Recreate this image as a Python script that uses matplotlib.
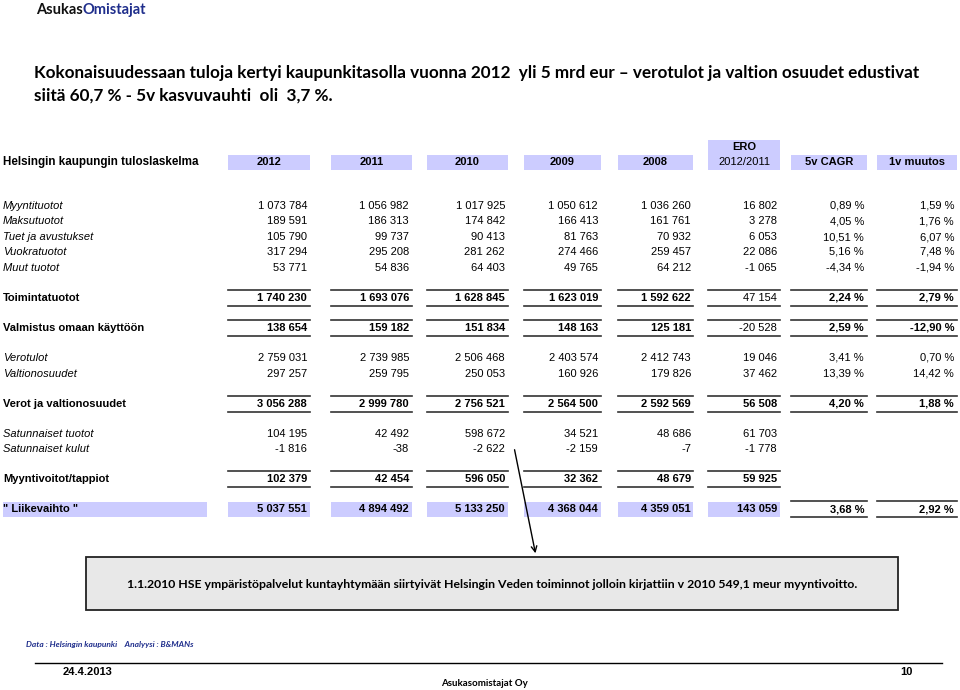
import matplotlib

matplotlib.use("Agg")
import matplotlib.pyplot as plt
from matplotlib.patches import Rectangle

# Taulukon data (1000 eur)
headers = ["2012", "2011", "2010", "2009", "2008", "2012/2011", "5v CAGR", "1v muutos"]
row_labels = ["Myyntituotot", "Maksutuotot", "Tuet ja avustukset", "Vuokratuotot", "Muut tuotot",
              "Toimintatuotot", "Valmistus omaan käyttöön", "Verotulot", "Valtionosuudet",
              "Verot ja valtionosuudet", "Satunnaiset tuotot", "Satunnaiset kulut",
              "Myyntivoitot/tappiot", "\" Liikevaihto \""]
v2012 = [1073784, 189591, 105790, 317294, 53771, 1740230, 138654, 2759031, 297257, 3056288, 104195, -1816, 102379, 5037551]
v2011 = [1056982, 186313, 99737, 295208, 54836, 1693076, 159182, 2739985, 259795, 2999780, 42492, -38, 42454, 4894492]
v2010 = [1017925, 174842, 90413, 281262, 64403, 1628845, 151834, 2506468, 250053, 2756521, 598672, -2622, 596050, 5133250]
v2009 = [1050612, 166413, 81763, 274466, 49765, 1623019, 148163, 2403574, 160926, 2564500, 34521, -2159, 32362, 4368044]
v2008 = [1036260, 161761, 70932, 259457, 64212, 1592622, 125181, 2412743, 179826, 2592569, 48686, -7, 48679, 4359051]
ero = [16802, 3278, 6053, 22086, -1065, 47154, -20528, 19046, 37462, 56508, 61703, -1778, 59925, 143059]
cagr = [0.89, 4.05, 10.51, 5.16, -4.34, 2.24, 2.59, 3.41, 13.39, 4.20, None, None, None, 3.68]
muutos = [1.59, 1.76, 6.07, 7.48, -1.94, 2.79, -12.90, 0.70, 14.42, 1.88, None, None, None, 2.92]

row_y = [206, 221, 237, 252, 268, 298, 328, 358, 374, 404, 434, 449, 479, 509]
total_rows = [5, 6, 9, 12, 13]
col_span = [(228, 310), (331, 412), (427, 508), (524, 601), (618, 693), (708, 780), (791, 867), (877, 957)]
col_right = [307, 409, 505, 598, 691, 777, 864, 954]

LAV = "#ccccff"
ARIAL = "Liberation Sans"
CALIBRI = "Lato"


def fmt_num(v):
    s = f"{abs(v):,}".replace(",", " ")
    return "-" + s if v < 0 else s


def fmt_pct(v):
    return f"{v:.2f}".replace(".", ",") + " %"


fig = plt.figure(figsize=(9.6, 6.9), dpi=100)
ax = fig.add_axes([0, 0, 1, 1])
ax.set_xlim(0, 960)
ax.set_ylim(690, 0)
ax.axis("off")

# logo-teksti: kaksi väriä vierekkäin
t1 = ax.text(36, 10, "Asukas", fontsize=10.5, fontweight="bold", family=CALIBRI, va="center", color="#111111")
ax.annotate("Omistajat", xycoords=t1, xy=(1, 0.5), va="center", ha="left",
            fontsize=10.5, fontweight="bold", family=CALIBRI, color="#1f2e8c")

ax.text(34, 73, "Kokonaisuudessaan tuloja kertyi kaupunkitasolla vuonna 2012  yli 5 mrd eur \u2013 verotulot ja valtion osuudet edustivat",
        fontsize=12.3, fontweight="bold", family=CALIBRI, va="center")
ax.text(34, 96, "siitä 60,7 % - 5v kasvuvauhti  oli  3,7 %.",
        fontsize=12.3, fontweight="bold", family=CALIBRI, va="center")

# sarakeotsikot
ax.text(3, 162, "Helsingin kaupungin tuloslaskelma", fontsize=8.4, fontweight="bold", family=ARIAL, va="center")
for i, (x0, x1) in enumerate(col_span):
    top = 140 if i == 5 else 155
    ax.add_patch(Rectangle((x0, top), x1 - x0, 170 - top, color=LAV, lw=0))
    cx = (x0 + x1) / 2
    if i == 5:
        ax.text(cx, 147, "ERO", fontsize=8, fontweight="bold", family=ARIAL, ha="center", va="center")
        ax.text(cx, 162, headers[i], fontsize=8, family=ARIAL, ha="center", va="center")
    else:
        ax.text(cx, 162, headers[i], fontsize=8, fontweight="bold", family=ARIAL, ha="center", va="center")

# rivit
columns = [v2012, v2011, v2010, v2009, v2008, ero, cagr, muutos]
for r, label in enumerate(row_labels):
    y = row_y[r]
    bold = r in total_rows
    if r == 13:
        ax.add_patch(Rectangle((3, y - 7.5), 204, 15, color=LAV, lw=0))
    ax.text(3, y, label, fontsize=8, family=ARIAL, va="center",
            fontweight="bold" if bold else "normal", style="normal" if bold else "italic")
    for c, col in enumerate(columns):
        v = col[r]
        if v is None:
            continue
        x0, x1 = col_span[c]
        if bold:
            if r == 13 and c <= 5:
                ax.add_patch(Rectangle((x0, y - 7.5), x1 - x0, 15, color=LAV, lw=0))
            else:
                ax.plot([x0, x1], [y - 8, y - 8], color="#333333", lw=1.2)
                ax.plot([x0, x1], [y + 8, y + 8], color="#333333", lw=1.2)
        txt = fmt_pct(v) if c >= 6 else fmt_num(v)
        w = "bold" if bold and not (c == 5 and r in (5, 6)) else "normal"
        ax.text(col_right[c], y, txt, fontsize=8, family=ARIAL, ha="right", va="center", fontweight=w)

# nuoli ja huomautuslaatikko
ax.annotate("", xy=(536, 556), xytext=(514, 447),
            arrowprops=dict(arrowstyle="->", color="black", lw=1))
ax.add_patch(Rectangle((86, 557), 812, 53, facecolor="#e8e8e8", edgecolor="#222222", lw=1.3))
ax.text(492, 584, "1.1.2010 HSE ympäristöpalvelut kuntayhtymään siirtyivät Helsingin Veden toiminnot jolloin kirjattiin v 2010 549,1 meur myyntivoitto.",
        fontsize=8.8, fontweight="bold", family=CALIBRI, ha="center", va="center")

# alatunniste
ax.text(26, 644, "Data : Helsingin kaupunki    Analyysi : B&MANs", fontsize=6, fontweight="bold",
        style="italic", family=CALIBRI, color="#1f2e8c", va="center")
ax.plot([35, 942], [663, 663], color="black", lw=1)
ax.text(63, 672, "24.4.2013", fontsize=8, fontweight="bold", family=ARIAL, va="center")
ax.text(441, 684, "Asukasomistajat Oy", fontsize=7, fontweight="bold", family=CALIBRI, va="center")
ax.text(900, 672, "10", fontsize=8, fontweight="bold", family=ARIAL, va="center")

fig.savefig("out.png", dpi=100)
